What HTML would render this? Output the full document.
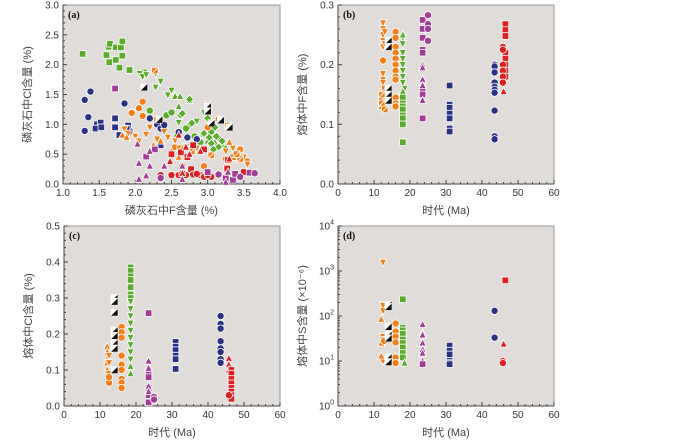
<!DOCTYPE html>
<html><head><meta charset="utf-8">
<style>
body{margin:0;background:#fff;width:700px;height:442px;overflow:hidden}
svg{display:block;font-family:"Liberation Sans","Noto Sans CJK SC",sans-serif}
</style></head>
<body>
<svg id="chart" width="700" height="442" viewBox="0 0 700 442"></svg>
<script>
// ---------- DATA ----------
// Panel (a): apatite F (%) vs Cl (%)
const aGreenSqX=[1.27,1.6,1.63,1.65,1.73,1.8,1.82,1.64,1.73,1.82,1.78,1.92,2.12];
const aGreenSqY=[2.18,2.16,2.3,2.35,2.29,2.29,2.39,2.04,2.08,2.15,1.95,1.91,1.87];
const aGreenDtX=[2.06,2.1,2.15,2.28,2.35,2.28,2.45,2.5,2.95,2.6,2.75,2.92,3.15,2.85];
const aGreenDtY=[1.85,1.8,1.83,1.85,1.72,1.62,1.49,1.57,1.2,1.03,0.97,0.83,0.75,1.05];
const aGreenCiX=[1.95,2.2,2.43,2.5,2.63,2.7,2.82,2.58,3.05,2.9];
const aGreenCiY=[1.2,1.23,1.15,1.2,1.16,0.93,0.8,0.8,0.88,0.7];
const aGreenTrX=[2.55,2.62,2.6,2.75,2.95,3.1,3.2,2.88,3.0,3.25];
const aGreenTrY=[1.47,1.47,1.3,1.4,0.6,0.7,0.65,0.55,0.72,0.62];
const aGreenDiX=[2.75,2.65,2.78,3.0,3.1,3.05,3.12,3.15,2.95,3.02,3.2,3.08];
const aGreenDiY=[1.42,1.18,1.02,1.1,0.95,0.68,0.8,0.62,0.85,0.78,0.72,0.58];
const aOrCiX=[2.1,2.05,2.1,1.95,2.65,2.95,3.0,3.25,3.45,3.55,2.55,2.8];
const aOrCiY=[1.38,1.27,1.14,1.19,0.3,0.3,0.95,0.42,0.58,0.38,0.62,0.6];
const aOrDtX=[1.85,1.9,2.0,2.15,2.3,2.45,2.55,2.7,3.25,3.35,3.4,3.5,3.55,2.2,2.05,2.4,2.85];
const aOrDtY=[0.92,0.85,0.8,0.83,0.75,0.78,0.73,0.62,0.55,0.6,0.5,0.45,0.33,0.95,0.72,0.88,0.6];
const aOrTrX=[1.82,1.88,2.25,2.5,2.6,3.3,2.35];
const aOrTrY=[0.82,0.78,0.65,0.55,0.45,0.7,0.72];
const aOrBwX=[2.3,2.27,3.0,3.15,3.28,3.05,3.3,3.35,3.45,3.4,2.62,2.78];
const aOrBwY=[1.08,1.9,1.32,1.08,0.98,0.48,0.38,0.45,0.42,0.5,0.6,0.55];
const aBlkX=[2.12,2.33,3.0,3.0,3.05,3.18,3.3];
const aBlkY=[1.62,1.08,1.3,1.22,1.02,1.07,0.95];
const aNvCiX=[1.3,1.38,1.35,1.3,1.85,2.2,2.3,2.35,2.4,2.6,2.72,2.85];
const aNvCiY=[1.41,1.55,1.12,0.89,1.35,1.1,1.0,0.93,0.99,0.87,0.78,0.75];
const aNvSqX=[1.47,1.52,1.45,1.53,1.72,1.72,1.78,1.9,1.92,2.35,1.88];
const aNvSqY=[1.0,1.03,0.93,0.95,1.1,0.95,0.82,0.98,0.88,0.65,0.93];
const aRdSqX=[2.5,2.63,2.8,2.95,2.77,3.27,3.5,2.72,3.28];
const aRdSqY=[0.5,0.53,0.65,0.58,0.25,0.26,0.2,0.45,0.4];
const aRdCiX=[2.35,2.5,2.6,2.7,2.8,2.9,3.05,2.65,2.95,3.0,2.85];
const aRdCiY=[0.15,0.15,0.15,0.15,0.16,0.15,0.12,0.18,0.12,0.15,0.17];
const aRdTrX=[2.48,2.6,2.7,2.65,2.9,2.75,3.3];
const aRdTrY=[0.38,0.82,0.62,0.18,0.55,0.5,0.42];
const aPuSqX=[1.72,2.15,2.27,3.0,3.35,3.38,3.58,3.25];
const aPuSqY=[1.6,0.46,0.58,0.2,0.07,0.17,0.19,0.1];
const aPuCiX=[3.15,3.45,3.65,2.35];
const aPuCiY=[0.16,0.12,0.18,0.1];
const aPuTrX=[2.05,2.05,2.15,2.03,2.2,2.2,2.4,2.65,2.65,3.25,3.28];
const aPuTrY=[0.35,0.08,0.14,0.67,0.55,0.3,0.3,0.3,0.08,0.03,0.2];

// Panel (b): age (Ma) vs melt F (%)
const bOrDtX=[12.5,12.5,12.5,12.5,12.5,12.5,12.5,12.5,12.5,12.5,13,13];
const bOrDtY=[0.27,0.26,0.25,0.24,0.23,0.185,0.175,0.17,0.155,0.145,0.255,0.235];
const bOrTrX=[12,12,12];const bOrTrY=[0.13,0.14,0.15];
const bOrCiX=[12.5,16,16,16,16,16,16,16,16,16,16,16,16];
const bOrCiY=[0.207,0.255,0.245,0.23,0.22,0.21,0.2,0.19,0.18,0.175,0.145,0.135,0.13];
const bOrBwX=[12.2,12.2,12.2,13,13];const bOrBwY=[0.14,0.15,0.135,0.16,0.125];
const bBlkX=[14,14,14,14,14];const bBlkY=[0.24,0.23,0.16,0.15,0.14];
const bGrDtX=[18,18,18,18,18,18,18,18,18.5];
const bGrDtY=[0.245,0.235,0.22,0.21,0.2,0.19,0.18,0.17,0.16];
const bGrTrX=[18,18];const bGrTrY=[0.25,0.155];
const bGrSqX=[18,18,18,18,18,18,18,18];
const bGrSqY=[0.145,0.135,0.13,0.125,0.115,0.11,0.1,0.07];
const bPuSqX=[23.5,23.5,23.5,23.5,23.5,23.5,23.5,23.5];
const bPuSqY=[0.275,0.26,0.245,0.225,0.22,0.16,0.15,0.11];
const bPuTrX=[23.5,23.5,23.5,23.5,23.5];const bPuTrY=[0.2,0.195,0.175,0.165,0.14];
const bPuCiX=[25,25,25,25];const bPuCiY=[0.283,0.268,0.26,0.24];
const bNvSqX=[31,31,31,31,31,31,31];const bNvSqY=[0.165,0.133,0.128,0.118,0.11,0.093,0.088];
const bNvCiX=[43.5,43.5,43.5,43.5,43.5,43.5,43.5,43.5,43.5,43.5];
const bNvCiY=[0.2,0.197,0.187,0.17,0.163,0.158,0.153,0.123,0.08,0.075];
const bRdSqX=[46.5,46.5,46.5,46.5,46.5,46.5,46.5,46.5];
const bRdSqY=[0.268,0.258,0.248,0.22,0.21,0.2,0.19,0.18];
const bRdCiX=[45.8,45.8,45.8,45.8,45.8,45.8];const bRdCiY=[0.23,0.225,0.2,0.19,0.18,0.17];
const bRdTrX=[46];const bRdTrY=[0.155];

// Panel (c): age (Ma) vs melt Cl (%)
const cOrTrX=[12,12,12,12,12];const cOrTrY=[0.165,0.15,0.13,0.12,0.1];
const cOrDtX=[12.5,12.5,12.5,12.5,12.5];const cOrDtY=[0.14,0.12,0.09,0.07,0.06];
const cOrCiX=[12.5,12.5,16,16,16,16,16,16,16,16,16];
const cOrCiY=[0.065,0.08,0.22,0.205,0.19,0.14,0.115,0.1,0.075,0.065,0.05];
const cBlkX=[14,14,14,14,14,14,14,14];const cBlkY=[0.3,0.29,0.26,0.21,0.195,0.175,0.16,0.1];
const cGrSqX=[18.5,18.5,18.5,18.5,18.5,18.5,18.5];const cGrSqY=[0.385,0.375,0.36,0.35,0.33,0.31,0.3];
const cGrDtX=[18.5,18.5,18.5,18.5,18.5,18.5,18.5,18.5,18.5];
const cGrDtY=[0.29,0.27,0.25,0.23,0.21,0.19,0.17,0.15,0.13];
const cGrTrX=[18.5,18.5];const cGrTrY=[0.11,0.09];
const cPuSqX=[23.5,23.5,23.5,23.5,23.5,23.5];const cPuSqY=[0.258,0.095,0.08,0.05,0.03,0.01];
const cPuTrX=[23.5,23.5,23.5,23.5];const cPuTrY=[0.125,0.105,0.055,0.04];
const cPuCiX=[25,25];const cPuCiY=[0.025,0.018];
const cNvSqX=[31,31,31,31,31,31];const cNvSqY=[0.178,0.165,0.155,0.14,0.13,0.103];
const cNvCiX=[43.5,43.5,43.5,43.5,43.5,43.5,43.5,43.5];
const cNvCiY=[0.25,0.228,0.215,0.18,0.16,0.15,0.13,0.12];
const cRdTrX=[45.8,45.8,45.8];const cRdTrY=[0.132,0.115,0.1];
const cRdSqX=[46.5,46.5,46.5,46.5,46.5,46.5,46.5,46.5];
const cRdSqY=[0.1,0.09,0.075,0.063,0.05,0.04,0.03,0.02];
const cRdCiX=[45.8];const cRdCiY=[0.03];

// Panel (d): age (Ma) vs melt S (×10^-6), log scale
const dOrDtX=[12.5,12.5,12.5,12.5,12.5,12.5,12.5];const dOrDtY=[1550,180,170,130,35,30,10];
const dOrTrX=[12,12,12];const dOrTrY=[85,25,13];
const dOrCiX=[16,16,16,16,16,16,12.8];const dOrCiY=[68,45,35,26,12,9,28];
const dBlkX=[14,14,14,14,14,14,14];const dBlkY=[180,160,58,38,32,12,9.5];
const dGrSqX=[18,18,18,18,18,18,18,18,18];const dGrSqY=[235,55,48,40,30,25,20,15,12];
const dGrTrX=[18.5];const dGrTrY=[9];
const dPuTrX=[23.5,23.5,23.5,23.5,23.5,23.5,23.5];const dPuTrY=[65,42,38,25,18,15,10];
const dPuSqX=[23.5];const dPuSqY=[8.5];
const dNvSqX=[31,31,31,31,31,31];const dNvSqY=[22,17,14,10,9,8.5];
const dNvCiX=[43.5,43.5];const dNvCiY=[130,33];
const dRdSqX=[46.5];const dRdSqY=[620];
const dRdTrX=[46];const dRdTrY=[24];
const dRdCiX=[45.8,45.8];const dRdCiY=[10,9];

const xTicksA=["1.0","1.5","2.0","2.5","3.0","3.5","4.0"];
const yTicksA=["0.0","0.5","1.0","1.5","2.0","2.5","3.0"];
const xTicksAge=["0","10","20","30","40","50","60"];
const yTicksB=["0.0","0.1","0.2","0.3"];
const yTicksC=["0.0","0.1","0.2","0.3","0.4","0.5"];
const yTicksD=["0","1","2","3","4"];

// ---------- DRAW ----------
const NS="http://www.w3.org/2000/svg";
const svg=document.getElementById('chart');
const C={g:'#5aab2e',o:'#f07f1c',n:'#2b3284',r:'#e02020',p:'#a23d96',k:'#111'};
function mk(tag,attrs,parent){const e=document.createElementNS(NS,tag);for(const k in attrs)e.setAttribute(k,attrs[k]);(parent||svg).appendChild(e);return e;}

function panel(P){
  const g=mk('g',{});
  
  
  const bg=mk('rect',{x:P.l,y:P.t,width:P.r-P.l,height:P.b-P.t,fill:'#dfdcd9',stroke:'#999','stroke-width':1},g);
  
  
  mk('line',{x1:P.l,y1:P.t,x2:P.l,y2:P.b,stroke:'#444','stroke-width':1},g);
  mk('line',{x1:P.l,y1:P.b,x2:P.r,y2:P.b,stroke:'#444','stroke-width':1},g);
  // x ticks
  P.xt.forEach((lab,i)=>{
    const x=P.l+(P.r-P.l)*i/(P.xt.length-1);
    mk('line',{x1:x,y1:P.b,x2:x,y2:P.b-4,stroke:'#444'},g);
    if(i<P.xt.length-1){for(let j=1;j<P.xm;j++){const xm=x+(P.r-P.l)/(P.xt.length-1)*j/P.xm;mk('line',{x1:xm,y1:P.b,x2:xm,y2:P.b-2,stroke:'#444'},g);}}
    const t=mk('text',{x:x,y:P.b+12,'font-size':10,'text-anchor':'middle',fill:'#333'},g);t.textContent=lab;
    
    
  });
  P.yt.forEach((lab,i)=>{
    const y=P.b-(P.b-P.t)*i/(P.yt.length-1);
    mk('line',{x1:P.l,y1:y,x2:P.l+4,y2:y,stroke:'#444'},g);
    if(i<P.yt.length-1){for(let j=1;j<P.ym;j++){let ym;if(P.log){ym=y-(P.b-P.t)/(P.yt.length-1)*Math.log10(j+1);}else ym=y-(P.b-P.t)/(P.yt.length-1)*j/P.ym;mk('line',{x1:P.l,y1:ym,x2:P.l+2,y2:ym,stroke:'#444'},g);}}
    const t=mk('text',{x:P.l-4,y:y+3.5,'font-size':10,'text-anchor':'end',fill:'#333'},g);
    if(P.log){t.textContent='10';const s=mk('tspan',{dy:-5,'font-size':7},t);s.textContent=lab;}else t.textContent=lab;
    
    
  });
  const pl=mk('text',{x:P.l+5,y:P.t+13,'font-size':10,'font-weight':'bold','font-family':'Liberation Serif,serif',fill:'#111'},g);
  pl.textContent='('+P.id+')';
  
  
  const xl=mk('text',{x:(P.l+P.r)/2,y:P.b+30,'font-size':11,'text-anchor':'middle',fill:'#444'},g);
  xl.textContent=P.xlab;
  
  
  const yx=P.l-32,yy=(P.t+P.b)/2;
  const yl=mk('text',{x:yx,y:yy,'font-size':11,'text-anchor':'middle',fill:'#444',transform:`rotate(-90 ${yx} ${yy})`},g);
  yl.textContent=P.ylab;
  
  
  P.g=g;
  P.sx=v=>P.l+(v-P.x0)/(P.x1-P.x0)*(P.r-P.l);
  P.sy=v=>P.log? P.b-(Math.log10(v)-P.y0)/(P.y1-P.y0)*(P.b-P.t) : P.b-(v-P.y0)/(P.y1-P.y0)*(P.b-P.t);
  return P;
}
function marker(P,xs,ys,shape,col,name){
  const s=3.6;
  xs.forEach((xv,i)=>{
    const x=P.sx(xv),y=P.sy(ys[i]);let e;
    const st={fill:col,stroke:'#fff','stroke-width':0.8};
    if(shape==='ci')e=mk('circle',Object.assign({cx:x,cy:y,r:s},st),P.g);
    else if(shape==='sq')e=mk('rect',Object.assign({x:x-s+0.3,y:y-s+0.3,width:2*s-0.6,height:2*s-0.6},st),P.g);
    else if(shape==='tr')e=mk('polygon',Object.assign({points:`${x},${y-s-0.5} ${x+s},${y+s-0.5} ${x-s},${y+s-0.5}`},st),P.g);
    else if(shape==='dt')e=mk('polygon',Object.assign({points:`${x-s},${y-s+0.5} ${x+s},${y-s+0.5} ${x},${y+s+0.5}`},st),P.g);
    else if(shape==='di')e=mk('polygon',Object.assign({points:`${x},${y-s-0.5} ${x+s+0.5},${y} ${x},${y+s+0.5} ${x-s-0.5},${y}`},st),P.g);
    else if(shape==='bw'){e=mk('g',{},P.g);mk('rect',Object.assign({x:x-s+0.3,y:y-s+0.3,width:2*s-0.6,height:2*s-0.6},st),e);mk('line',{x1:x-s+1,y1:y+s-1,x2:x+s-1,y2:y-s+1,stroke:'#fff','stroke-width':0.9},e);}
    else if(shape==='bk'){e=mk('g',{},P.g);mk('rect',{x:x-s+0.3,y:y-s+0.3,width:2*s-0.6,height:2*s-0.6,fill:'#fff',stroke:'#fff','stroke-width':0.8},e);mk('polygon',{points:`${x+s-0.3},${y-s+0.3} ${x+s-0.3},${y+s-0.3} ${x-s+0.3},${y+s-0.3}`,fill:'#111'},e);}
    
    
  });
}
const A=panel({id:'a',l:63,r:280,t:5,b:184,x0:1,x1:4,y0:0,y1:3,xt:xTicksA,yt:yTicksA,xm:5,ym:5,xlab:'磷灰石中F含量 (%)',ylab:'磷灰石中Cl含量 (%)'});
const B=panel({id:'b',l:338,r:554,t:5,b:184,x0:0,x1:60,y0:0,y1:0.3,xt:xTicksAge,yt:yTicksB,xm:5,ym:5,xlab:'时代 (Ma)',ylab:'熔体中F含量 (%)'});
const Cp=panel({id:'c',l:64,r:280,t:226,b:406,x0:0,x1:60,y0:0,y1:0.5,xt:xTicksAge,yt:yTicksC,xm:5,ym:5,xlab:'时代 (Ma)',ylab:'熔体中Cl含量 (%)'});
const D=panel({id:'d',l:338,r:554,t:226,b:406,x0:0,x1:60,y0:0,y1:4,log:true,xt:xTicksAge,yt:yTicksD,xm:5,ym:9,xlab:'时代 (Ma)',ylab:'熔体中S含量 (×10⁻⁶)'});

marker(A,aGreenSqX,aGreenSqY,'sq',C.g,'point-green-square');
marker(A,aGreenDtX,aGreenDtY,'dt',C.g,'point-green-down-triangle');
marker(A,aGreenCiX,aGreenCiY,'ci',C.g,'point-green-circle');
marker(A,aGreenTrX,aGreenTrY,'tr',C.g,'point-green-triangle');
marker(A,aGreenDiX,aGreenDiY,'di',C.g,'point-green-diamond');
marker(A,aNvCiX,aNvCiY,'ci',C.n,'point-navy-circle');
marker(A,aNvSqX,aNvSqY,'sq',C.n,'point-navy-square');
marker(A,aOrCiX,aOrCiY,'ci',C.o,'point-orange-circle');
marker(A,aOrDtX,aOrDtY,'dt',C.o,'point-orange-down-triangle');
marker(A,aOrTrX,aOrTrY,'tr',C.o,'point-orange-triangle');
marker(A,aOrBwX,aOrBwY,'bw',C.o,'point-orange-split');
marker(A,aBlkX,aBlkY,'bk',C.k,'point-black-half');
marker(A,aRdSqX,aRdSqY,'sq',C.r,'point-red-square');
marker(A,aRdCiX,aRdCiY,'ci',C.r,'point-red-circle');
marker(A,aRdTrX,aRdTrY,'tr',C.r,'point-red-triangle');
marker(A,aPuSqX,aPuSqY,'sq',C.p,'point-purple-square');
marker(A,aPuCiX,aPuCiY,'ci',C.p,'point-purple-circle');
marker(A,aPuTrX,aPuTrY,'tr',C.p,'point-purple-triangle');

marker(B,bOrDtX,bOrDtY,'dt',C.o,'point-orange-down-triangle');
marker(B,bOrTrX,bOrTrY,'tr',C.o,'point-orange-triangle');
marker(B,bOrCiX,bOrCiY,'ci',C.o,'point-orange-circle');
marker(B,bOrBwX,bOrBwY,'bw',C.o,'point-orange-split');
marker(B,bBlkX,bBlkY,'bk',C.k,'point-black-half');
marker(B,bGrDtX,bGrDtY,'dt',C.g,'point-green-down-triangle');
marker(B,bGrTrX,bGrTrY,'tr',C.g,'point-green-triangle');
marker(B,bGrSqX,bGrSqY,'sq',C.g,'point-green-square');
marker(B,bPuSqX,bPuSqY,'sq',C.p,'point-purple-square');
marker(B,bPuTrX,bPuTrY,'tr',C.p,'point-purple-triangle');
marker(B,bPuCiX,bPuCiY,'ci',C.p,'point-purple-circle');
marker(B,bNvSqX,bNvSqY,'sq',C.n,'point-navy-square');
marker(B,bNvCiX,bNvCiY,'ci',C.n,'point-navy-circle');
marker(B,bRdSqX,bRdSqY,'sq',C.r,'point-red-square');
marker(B,bRdCiX,bRdCiY,'ci',C.r,'point-red-circle');
marker(B,bRdTrX,bRdTrY,'tr',C.r,'point-red-triangle');

marker(Cp,cOrTrX,cOrTrY,'tr',C.o,'point-orange-triangle');
marker(Cp,cOrDtX,cOrDtY,'dt',C.o,'point-orange-down-triangle');
marker(Cp,cOrCiX,cOrCiY,'ci',C.o,'point-orange-circle');
marker(Cp,cBlkX,cBlkY,'bk',C.k,'point-black-half');
marker(Cp,cGrSqX,cGrSqY,'sq',C.g,'point-green-square');
marker(Cp,cGrDtX,cGrDtY,'dt',C.g,'point-green-down-triangle');
marker(Cp,cGrTrX,cGrTrY,'tr',C.g,'point-green-triangle');
marker(Cp,cPuSqX,cPuSqY,'sq',C.p,'point-purple-square');
marker(Cp,cPuTrX,cPuTrY,'tr',C.p,'point-purple-triangle');
marker(Cp,cPuCiX,cPuCiY,'ci',C.p,'point-purple-circle');
marker(Cp,cNvSqX,cNvSqY,'sq',C.n,'point-navy-square');
marker(Cp,cNvCiX,cNvCiY,'ci',C.n,'point-navy-circle');
marker(Cp,cRdTrX,cRdTrY,'tr',C.r,'point-red-triangle');
marker(Cp,cRdSqX,cRdSqY,'sq',C.r,'point-red-square');
marker(Cp,cRdCiX,cRdCiY,'ci',C.r,'point-red-circle');

marker(D,dOrDtX,dOrDtY,'dt',C.o,'point-orange-down-triangle');
marker(D,dOrTrX,dOrTrY,'tr',C.o,'point-orange-triangle');
marker(D,dOrCiX,dOrCiY,'ci',C.o,'point-orange-circle');
marker(D,dBlkX,dBlkY,'bk',C.k,'point-black-half');
marker(D,dGrSqX,dGrSqY,'sq',C.g,'point-green-square');
marker(D,dGrTrX,dGrTrY,'tr',C.g,'point-green-triangle');
marker(D,dPuTrX,dPuTrY,'tr',C.p,'point-purple-triangle');
marker(D,dPuSqX,dPuSqY,'sq',C.p,'point-purple-square');
marker(D,dNvSqX,dNvSqY,'sq',C.n,'point-navy-square');
marker(D,dNvCiX,dNvCiY,'ci',C.n,'point-navy-circle');
marker(D,dRdSqX,dRdSqY,'sq',C.r,'point-red-square');
marker(D,dRdTrX,dRdTrY,'tr',C.r,'point-red-triangle');
marker(D,dRdCiX,dRdCiY,'ci',C.r,'point-red-circle');
</script>
</body></html>
